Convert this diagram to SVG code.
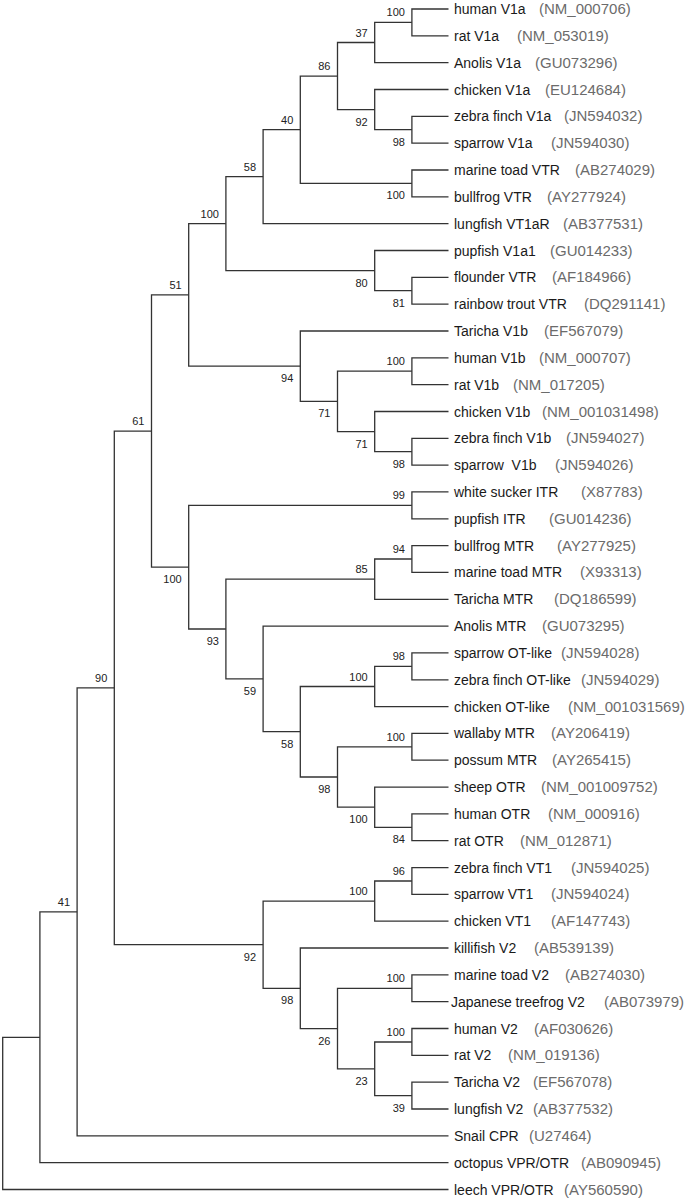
<svg xmlns="http://www.w3.org/2000/svg" width="686" height="1200" viewBox="0 0 686 1200">
<style>
.br{fill:none;stroke:#333;stroke-width:1.3}
.nm{font-family:"Liberation Sans",Arial,sans-serif;font-size:14px;fill:#1a1a1a}
.ac{font-family:"Liberation Sans",Arial,sans-serif;font-size:15px;fill:#6b6b6b}
.bs{font-family:"Liberation Sans",Arial,sans-serif;font-size:11px;fill:#222;text-anchor:end}
</style>
<rect width="686" height="1200" fill="#fff"/>
<g id="connectors">
<path class="br" d="M448.5 9 H411.9 V35.8 H448.5"/>
<path class="br" d="M411.9 22.4 H374.7 V62.7 H448.5"/>
<path class="br" d="M448.5 116.3 H411.9 V143.2 H448.5"/>
<path class="br" d="M448.5 89.5 H374.7 V129.7 H411.9"/>
<path class="br" d="M374.7 42.5 H337.5 V109.6 H374.7"/>
<path class="br" d="M448.5 170 H411.9 V196.8 H448.5"/>
<path class="br" d="M337.5 76.1 H300.3 V183.4 H411.9"/>
<path class="br" d="M300.3 129.7 H263.1 V223.6 H448.5"/>
<path class="br" d="M448.5 277.3 H411.9 V304.1 H448.5"/>
<path class="br" d="M448.5 250.5 H374.7 V290.7 H411.9"/>
<path class="br" d="M263.1 176.7 H225.9 V270.6 H374.7"/>
<path class="br" d="M448.5 357.8 H411.9 V384.6 H448.5"/>
<path class="br" d="M448.5 438.3 H411.9 V465.1 H448.5"/>
<path class="br" d="M448.5 411.5 H374.7 V451.7 H411.9"/>
<path class="br" d="M411.9 371.2 H337.5 V431.6 H374.7"/>
<path class="br" d="M448.5 331 H300.3 V401.4 H337.5"/>
<path class="br" d="M225.9 223.6 H188.7 V366.2 H300.3"/>
<path class="br" d="M448.5 491.9 H411.9 V518.8 H448.5"/>
<path class="br" d="M448.5 545.6 H411.9 V572.4 H448.5"/>
<path class="br" d="M411.9 559 H374.7 V599.3 H448.5"/>
<path class="br" d="M448.5 652.9 H411.9 V679.8 H448.5"/>
<path class="br" d="M411.9 666.3 H374.7 V706.6 H448.5"/>
<path class="br" d="M448.5 733.4 H411.9 V760.2 H448.5"/>
<path class="br" d="M448.5 813.9 H411.9 V840.7 H448.5"/>
<path class="br" d="M448.5 787.1 H374.7 V827.3 H411.9"/>
<path class="br" d="M411.9 746.8 H337.5 V807.2 H374.7"/>
<path class="br" d="M374.7 686.5 H300.3 V777 H337.5"/>
<path class="br" d="M448.5 626.1 H263.1 V731.7 H300.3"/>
<path class="br" d="M374.7 579.1 H225.9 V678.9 H263.1"/>
<path class="br" d="M411.9 505.4 H188.7 V629 H225.9"/>
<path class="br" d="M188.7 294.9 H151.5 V567.2 H188.7"/>
<path class="br" d="M448.5 867.6 H411.9 V894.4 H448.5"/>
<path class="br" d="M411.9 881 H374.7 V921.2 H448.5"/>
<path class="br" d="M448.5 974.9 H411.9 V1001.7 H448.5"/>
<path class="br" d="M448.5 1028.5 H411.9 V1055.4 H448.5"/>
<path class="br" d="M448.5 1082.2 H411.9 V1109 H448.5"/>
<path class="br" d="M411.9 1042 H374.7 V1095.6 H411.9"/>
<path class="br" d="M411.9 988.3 H337.5 V1068.8 H374.7"/>
<path class="br" d="M448.5 948 H300.3 V1028.6 H337.5"/>
<path class="br" d="M374.7 901.1 H263.1 V988.3 H300.3"/>
<path class="br" d="M151.5 431.1 H114.3 V944.7 H263.1"/>
<path class="br" d="M114.3 687.9 H77.1 V1135.9 H448.5"/>
<path class="br" d="M77.1 911.9 H39.9 V1162.7 H448.5"/>
<path class="br" d="M39.9 1037.3 H2.7 V1189.5 H448.5"/>
</g>
<g id="leaves">
<g id="leaf-human-V1a"><text class="nm" x="454" y="14">human V1a</text><text class="ac" x="539" y="14">(NM_000706)</text></g>
<g id="leaf-rat-V1a"><text class="nm" x="454" y="40.8">rat V1a</text><text class="ac" x="517" y="40.8">(NM_053019)</text></g>
<g id="leaf-Anolis-V1a"><text class="nm" x="454" y="67.7">Anolis V1a</text><text class="ac" x="535" y="67.7">(GU073296)</text></g>
<g id="leaf-chicken-V1a"><text class="nm" x="454" y="94.5">chicken V1a</text><text class="ac" x="545" y="94.5">(EU124684)</text></g>
<g id="leaf-zebra-finch-V1a"><text class="nm" x="454" y="121.3">zebra finch V1a</text><text class="ac" x="564" y="121.3">(JN594032)</text></g>
<g id="leaf-sparrow-V1a"><text class="nm" x="454" y="148.2">sparrow V1a</text><text class="ac" x="551" y="148.2">(JN594030)</text></g>
<g id="leaf-marine-toad-VTR"><text class="nm" x="454" y="175">marine toad VTR</text><text class="ac" x="575" y="175">(AB274029)</text></g>
<g id="leaf-bullfrog-VTR"><text class="nm" x="454" y="201.8">bullfrog VTR</text><text class="ac" x="547" y="201.8">(AY277924)</text></g>
<g id="leaf-lungfish-VT1aR"><text class="nm" x="454" y="228.6">lungfish VT1aR</text><text class="ac" x="563" y="228.6">(AB377531)</text></g>
<g id="leaf-pupfish-V1a1"><text class="nm" x="454" y="255.5">pupfish V1a1</text><text class="ac" x="550" y="255.5">(GU014233)</text></g>
<g id="leaf-flounder-VTR"><text class="nm" x="454" y="282.3">flounder VTR</text><text class="ac" x="552" y="282.3">(AF184966)</text></g>
<g id="leaf-rainbow-trout-VTR"><text class="nm" x="454" y="309.1">rainbow trout VTR</text><text class="ac" x="584" y="309.1">(DQ291141)</text></g>
<g id="leaf-Taricha-V1b"><text class="nm" x="454" y="336">Taricha V1b</text><text class="ac" x="544" y="336">(EF567079)</text></g>
<g id="leaf-human-V1b"><text class="nm" x="454" y="362.8">human V1b</text><text class="ac" x="539" y="362.8">(NM_000707)</text></g>
<g id="leaf-rat-V1b"><text class="nm" x="454" y="389.6">rat V1b</text><text class="ac" x="513" y="389.6">(NM_017205)</text></g>
<g id="leaf-chicken-V1b"><text class="nm" x="454" y="416.5">chicken V1b</text><text class="ac" x="542" y="416.5">(NM_001031498)</text></g>
<g id="leaf-zebra-finch-V1b"><text class="nm" x="454" y="443.3">zebra finch V1b</text><text class="ac" x="566" y="443.3">(JN594027)</text></g>
<g id="leaf-sparrow-V1b"><text class="nm" x="454" y="470.1" xml:space="preserve">sparrow  V1b</text><text class="ac" x="555" y="470.1">(JN594026)</text></g>
<g id="leaf-white-sucker-ITR"><text class="nm" x="454" y="496.9">white sucker ITR</text><text class="ac" x="581" y="496.9">(X87783)</text></g>
<g id="leaf-pupfish-ITR"><text class="nm" x="454" y="523.8">pupfish ITR</text><text class="ac" x="549" y="523.8">(GU014236)</text></g>
<g id="leaf-bullfrog-MTR"><text class="nm" x="454" y="550.6">bullfrog MTR</text><text class="ac" x="557" y="550.6">(AY277925)</text></g>
<g id="leaf-marine-toad-MTR"><text class="nm" x="454" y="577.4">marine toad MTR</text><text class="ac" x="580" y="577.4">(X93313)</text></g>
<g id="leaf-Taricha-MTR"><text class="nm" x="454" y="604.3">Taricha MTR</text><text class="ac" x="554" y="604.3">(DQ186599)</text></g>
<g id="leaf-Anolis-MTR"><text class="nm" x="454" y="631.1">Anolis MTR</text><text class="ac" x="542" y="631.1">(GU073295)</text></g>
<g id="leaf-sparrow-OT-like"><text class="nm" x="454" y="657.9">sparrow OT-like</text><text class="ac" x="561" y="657.9">(JN594028)</text></g>
<g id="leaf-zebra-finch-OT-like"><text class="nm" x="454" y="684.8">zebra finch OT-like</text><text class="ac" x="581" y="684.8">(JN594029)</text></g>
<g id="leaf-chicken-OT-like"><text class="nm" x="454" y="711.6">chicken OT-like</text><text class="ac" x="568" y="711.6">(NM_001031569)</text></g>
<g id="leaf-wallaby-MTR"><text class="nm" x="454" y="738.4">wallaby MTR</text><text class="ac" x="551" y="738.4">(AY206419)</text></g>
<g id="leaf-possum-MTR"><text class="nm" x="454" y="765.2">possum MTR</text><text class="ac" x="552" y="765.2">(AY265415)</text></g>
<g id="leaf-sheep-OTR"><text class="nm" x="454" y="792.1">sheep OTR</text><text class="ac" x="541" y="792.1">(NM_001009752)</text></g>
<g id="leaf-human-OTR"><text class="nm" x="454" y="818.9">human OTR</text><text class="ac" x="548" y="818.9">(NM_000916)</text></g>
<g id="leaf-rat-OTR"><text class="nm" x="454" y="845.7">rat OTR</text><text class="ac" x="520" y="845.7">(NM_012871)</text></g>
<g id="leaf-zebra-finch-VT1"><text class="nm" x="454" y="872.6">zebra finch VT1</text><text class="ac" x="571" y="872.6">(JN594025)</text></g>
<g id="leaf-sparrow-VT1"><text class="nm" x="454" y="899.4">sparrow VT1</text><text class="ac" x="551" y="899.4">(JN594024)</text></g>
<g id="leaf-chicken-VT1"><text class="nm" x="454" y="926.2">chicken VT1</text><text class="ac" x="551" y="926.2">(AF147743)</text></g>
<g id="leaf-killifish-V2"><text class="nm" x="454" y="953">killifish V2</text><text class="ac" x="534" y="953">(AB539139)</text></g>
<g id="leaf-marine-toad-V2"><text class="nm" x="454" y="979.9">marine toad V2</text><text class="ac" x="565" y="979.9">(AB274030)</text></g>
<g id="leaf-Japanese-treefrog-V2"><text class="nm" x="451" y="1006.7">Japanese treefrog V2</text><text class="ac" x="604" y="1006.7">(AB073979)</text></g>
<g id="leaf-human-V2"><text class="nm" x="454" y="1033.5">human V2</text><text class="ac" x="534" y="1033.5">(AF030626)</text></g>
<g id="leaf-rat-V2"><text class="nm" x="454" y="1060.4">rat V2</text><text class="ac" x="508" y="1060.4">(NM_019136)</text></g>
<g id="leaf-Taricha-V2"><text class="nm" x="454" y="1087.2">Taricha V2</text><text class="ac" x="533" y="1087.2">(EF567078)</text></g>
<g id="leaf-lungfish-V2"><text class="nm" x="454" y="1114">lungfish V2</text><text class="ac" x="533" y="1114">(AB377532)</text></g>
<g id="leaf-Snail-CPR"><text class="nm" x="454" y="1140.9">Snail CPR</text><text class="ac" x="529" y="1140.9">(U27464)</text></g>
<g id="leaf-octopus-VPR-OTR"><text class="nm" x="454" y="1167.7">octopus VPR/OTR</text><text class="ac" x="581" y="1167.7">(AB090945)</text></g>
<g id="leaf-leech-VPR-OTR"><text class="nm" x="454" y="1194.5">leech VPR/OTR</text><text class="ac" x="564" y="1194.5">(AY560590)</text></g>
</g>
<g id="bootstrap">
<g id="n1"><text class="bs" x="404.9" y="16.4">100</text></g>
<g id="n2"><text class="bs" x="367.7" y="36.5">37</text></g>
<g id="n3"><text class="bs" x="404.9" y="145.7">98</text></g>
<g id="n4"><text class="bs" x="367.7" y="125.6">92</text></g>
<g id="n5"><text class="bs" x="330.5" y="70.1">86</text></g>
<g id="n6"><text class="bs" x="404.9" y="199.4">100</text></g>
<g id="n7"><text class="bs" x="293.3" y="123.7">40</text></g>
<g id="n8"><text class="bs" x="256.1" y="170.7">58</text></g>
<g id="n9"><text class="bs" x="404.9" y="306.7">81</text></g>
<g id="n10"><text class="bs" x="367.7" y="286.6">80</text></g>
<g id="n11"><text class="bs" x="218.9" y="217.6">100</text></g>
<g id="n12"><text class="bs" x="404.9" y="365.2">100</text></g>
<g id="n13"><text class="bs" x="404.9" y="467.7">98</text></g>
<g id="n14"><text class="bs" x="367.7" y="447.6">71</text></g>
<g id="n15"><text class="bs" x="330.5" y="417.4">71</text></g>
<g id="n16"><text class="bs" x="293.3" y="382.2">94</text></g>
<g id="n17"><text class="bs" x="181.7" y="288.9">51</text></g>
<g id="n18"><text class="bs" x="404.9" y="499.4">99</text></g>
<g id="n19"><text class="bs" x="404.9" y="553">94</text></g>
<g id="n20"><text class="bs" x="367.7" y="573.1">85</text></g>
<g id="n21"><text class="bs" x="404.9" y="660.3">98</text></g>
<g id="n22"><text class="bs" x="367.7" y="680.5">100</text></g>
<g id="n23"><text class="bs" x="404.9" y="740.8">100</text></g>
<g id="n24"><text class="bs" x="404.9" y="843.3">84</text></g>
<g id="n25"><text class="bs" x="367.7" y="823.2">100</text></g>
<g id="n26"><text class="bs" x="330.5" y="793">98</text></g>
<g id="n27"><text class="bs" x="293.3" y="747.7">58</text></g>
<g id="n28"><text class="bs" x="256.1" y="694.9">59</text></g>
<g id="n29"><text class="bs" x="218.9" y="645">93</text></g>
<g id="n30"><text class="bs" x="181.7" y="583.2">100</text></g>
<g id="n31"><text class="bs" x="144.5" y="425">61</text></g>
<g id="n32"><text class="bs" x="404.9" y="875">96</text></g>
<g id="n33"><text class="bs" x="367.7" y="895.1">100</text></g>
<g id="n34"><text class="bs" x="404.9" y="982.3">100</text></g>
<g id="n35"><text class="bs" x="404.9" y="1036">100</text></g>
<g id="n36"><text class="bs" x="404.9" y="1111.6">39</text></g>
<g id="n37"><text class="bs" x="367.7" y="1084.8">23</text></g>
<g id="n38"><text class="bs" x="330.5" y="1044.6">26</text></g>
<g id="n39"><text class="bs" x="293.3" y="1004.3">98</text></g>
<g id="n40"><text class="bs" x="256.1" y="960.7">92</text></g>
<g id="n41"><text class="bs" x="107.3" y="681.9">90</text></g>
<g id="n42"><text class="bs" x="70.1" y="905.9">41</text></g>
</g>
</svg>
